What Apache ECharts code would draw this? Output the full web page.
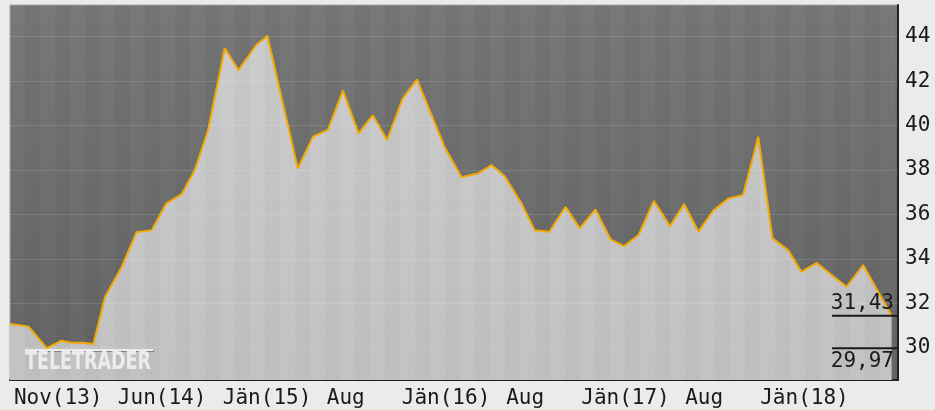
<!DOCTYPE html>
<html>
<head>
<meta charset="utf-8">
<script src="https://cdn.jsdelivr.net/npm/echarts@6/dist/echarts.min.js"></script>
<style>
  html, body { margin: 0; padding: 0; background: #eaecea; }
  #chart { width: 935px; height: 410px; }
</style>
</head>
<body>
<div id="chart"></div>
<script>
// price points (date, value)
var dates = [
    '2013-10-24', '2013-11-17', '2013-12-01', '2014-01-07', '2014-02-06', '2014-02-27',
    '2014-03-22', '2014-04-12', '2014-05-06', '2014-06-09', '2014-07-09', '2014-08-09',
    '2014-09-08', '2014-10-09', '2014-11-05', '2014-12-02', '2015-01-05', '2015-02-02',
    '2015-03-10', '2015-04-02', '2015-06-03', '2015-07-04', '2015-08-03', '2015-09-03',
    '2015-10-05', '2015-11-03', '2015-12-02', '2016-01-03', '2016-02-01', '2016-03-28',
    '2016-05-02', '2016-06-05', '2016-07-02', '2016-07-29', '2016-09-01', '2016-09-28',
    '2016-10-28', '2016-11-30', '2016-12-29', '2017-01-30', '2017-03-02', '2017-03-29',
    '2017-04-28', '2017-05-29', '2017-07-01', '2017-07-30', '2017-08-28', '2017-09-28',
    '2017-10-29', '2017-11-27', '2017-12-28', '2018-01-26', '2018-02-27', '2018-03-26',
    '2018-04-26', '2018-05-26', '2018-06-26', '2018-07-30', '2018-09-26'
];
var prices = [
    31.06, 31.00, 30.94, 29.97, 30.31, 30.22,
    30.22, 30.16, 32.29, 33.64, 35.19, 35.29,
    36.50, 36.91, 38.00, 39.80, 43.48, 42.50,
    43.63, 44.03, 38.07, 39.50, 39.80, 41.57,
    39.65, 40.47, 39.35, 41.22, 42.08, 39.05,
    37.67, 37.85, 38.22, 37.72, 36.50, 35.29,
    35.22, 36.34, 35.37, 36.22, 34.87, 34.57,
    35.07, 36.61, 35.47, 36.46, 35.22, 36.19,
    36.72, 36.87, 39.50, 34.92, 34.39, 33.41,
    33.82, 33.28, 32.74, 33.72, 31.43
];

// axis ticks
var tickDates = ['2013-11-01', '2014-06-01', '2015-01-01', '2015-08-01', '2016-01-01',
                 '2016-08-01', '2017-01-01', '2017-08-01', '2018-01-01'];
var tickLabels = ['Nov(13)', 'Jun(14)', 'Jän(15)', 'Aug', 'Jän(16)', 'Aug', 'Jän(17)', 'Aug', 'Jän(18)'];
var yTicks = [30, 32, 34, 36, 38, 40, 42, 44];

var lastValue = 31.43;
var lowValue = 29.97;

var fmt = function (v) {
    return v.toFixed(2).replace('.', ',');
};

var ts = function (d) {
    return Date.parse(d + 'T00:00:00Z');
};

//background textures (gradient + month stripes + hatch)
var makeBg = function (top, bottom, stripe, hatch) {
    var c = document.createElement('canvas');
    c.width = 935;
    c.height = 410;
    var ctx = c.getContext('2d');
    var g = ctx.createLinearGradient(0, 5, 0, 380);
    g.addColorStop(0, top);
    g.addColorStop(1, bottom);
    ctx.fillStyle = g;
    ctx.fillRect(0, 0, 935, 410);
    ctx.fillStyle = stripe;
    for (var x = 10; x < 935; x += 30) {
        ctx.fillRect(x + 15, 0, 15, 410);
    }
    if (hatch) {
        ctx.strokeStyle = hatch;
        ctx.lineWidth = 1;
        for (var k = -410; k < 935; k += 8) {
            ctx.beginPath();
            ctx.moveTo(k, 410);
            ctx.lineTo(k + 410, 0);
            ctx.stroke();
        }
    }
    return c;
};

var darkBg = makeBg('#787878', '#646464', 'rgba(0,0,0,0.035)', 'rgba(255,255,255,0.028)');
var lightBg = makeBg('#cdcdcd', '#c2c2c2', 'rgba(0,0,0,0.022)', null);

var tickValues = tickDates.map(ts);

var chart = echarts.init(document.getElementById('chart'));

chart.setOption({
    animation: false,
    backgroundColor: '#eaecea',
    grid: {
        left: 10, right: 37, top: 5, bottom: 30,
        show: true,
        backgroundColor: { image: darkBg, repeat: 'no-repeat' },
        borderColor: '#a4a4a4',
        borderWidth: 1
    },
    xAxis: {
        type: 'value',
        min: ts('2013-10-24'),
        max: ts('2018-10-09'),
        axisLine: { show: true, onZero: false, lineStyle: { color: '#222', width: 2 } },
        axisTick: { show: false },
        splitLine: { show: false },
        axisLabel: {
            customValues: tickValues,
            formatter: function (val) {
                var i = tickValues.indexOf(+val);
                return i >= 0 ? tickLabels[i] : '';
            },
            align: 'left',
            color: '#1a1a1a',
            fontFamily: 'DejaVu Sans Mono',
            fontSize: 21,
            margin: 8,
            hideOverlap: false
        }
    },
    yAxis: {
        type: 'value',
        position: 'right',
        min: 28.54,
        max: 45.43,
        axisLine: { show: true, lineStyle: { color: '#222', width: 2 } },
        axisTick: { show: false },
        splitLine: { show: false },
        axisLabel: {
            customValues: yTicks,
            color: '#1a1a1a',
            fontFamily: 'DejaVu Sans Mono',
            fontSize: 21,
            margin: 7,
            padding: [10, 0, 0, 0]
        }
    },
    series: [{
        type: 'line',
        data: dates.map(function (d, i) { return [ts(d), prices[i]]; }),
        symbol: 'none',
        lineStyle: { color: '#f2a900', width: 2 },
        areaStyle: { color: { image: lightBg, repeat: 'no-repeat' }, opacity: 1 },
        markLine: {
            silent: true,
            symbol: 'none',
            label: { show: false },
            lineStyle: { color: 'rgba(255,255,255,0.12)', width: 1, type: 'solid' },
            data: yTicks.map(function (v) { return { yAxis: v }; })
        }
    }]
});

// last / low markers and logo, placed through the y scale
var yLast = chart.convertToPixel({ yAxisIndex: 0 }, lastValue);
var yLow = chart.convertToPixel({ yAxisIndex: 0 }, lowValue);
var xEnd = 935 - 37;

chart.setOption({
    graphic: [
        { type: 'line', z: 100, shape: { x1: 832, y1: yLast, x2: xEnd, y2: yLast }, style: { stroke: '#1a1a1a', lineWidth: 2 } },
        { type: 'line', z: 100, shape: { x1: 832, y1: yLow, x2: xEnd, y2: yLow }, style: { stroke: '#1a1a1a', lineWidth: 2 } },
        { type: 'text', z: 100, x: 894, y: yLast - 2, style: { text: fmt(lastValue), align: 'right', verticalAlign: 'bottom', font: '21px "DejaVu Sans Mono"', fill: '#1a1a1a' } },
        { type: 'text', z: 100, x: 894, y: yLow + 3, style: { text: fmt(lowValue), align: 'right', verticalAlign: 'top', font: '21px "DejaVu Sans Mono"', fill: '#1a1a1a' } },
        { type: 'rect', z: 100, shape: { x: 25, y: 349, width: 128, height: 2 }, style: { fill: '#ececec', shadowColor: 'rgba(0,0,0,0.3)', shadowOffsetX: 1, shadowOffsetY: 1 } },
        { type: 'text', z: 100, x: 25, y: 350, scaleX: 0.7, style: { text: 'TELETRADER', font: 'bold 25px "DejaVu Sans"', fill: '#ececec', textShadowColor: 'rgba(0,0,0,0.3)', textShadowOffsetX: 1, textShadowOffsetY: 1, verticalAlign: 'top' } }
    ]
});
</script>
</body>
</html>
